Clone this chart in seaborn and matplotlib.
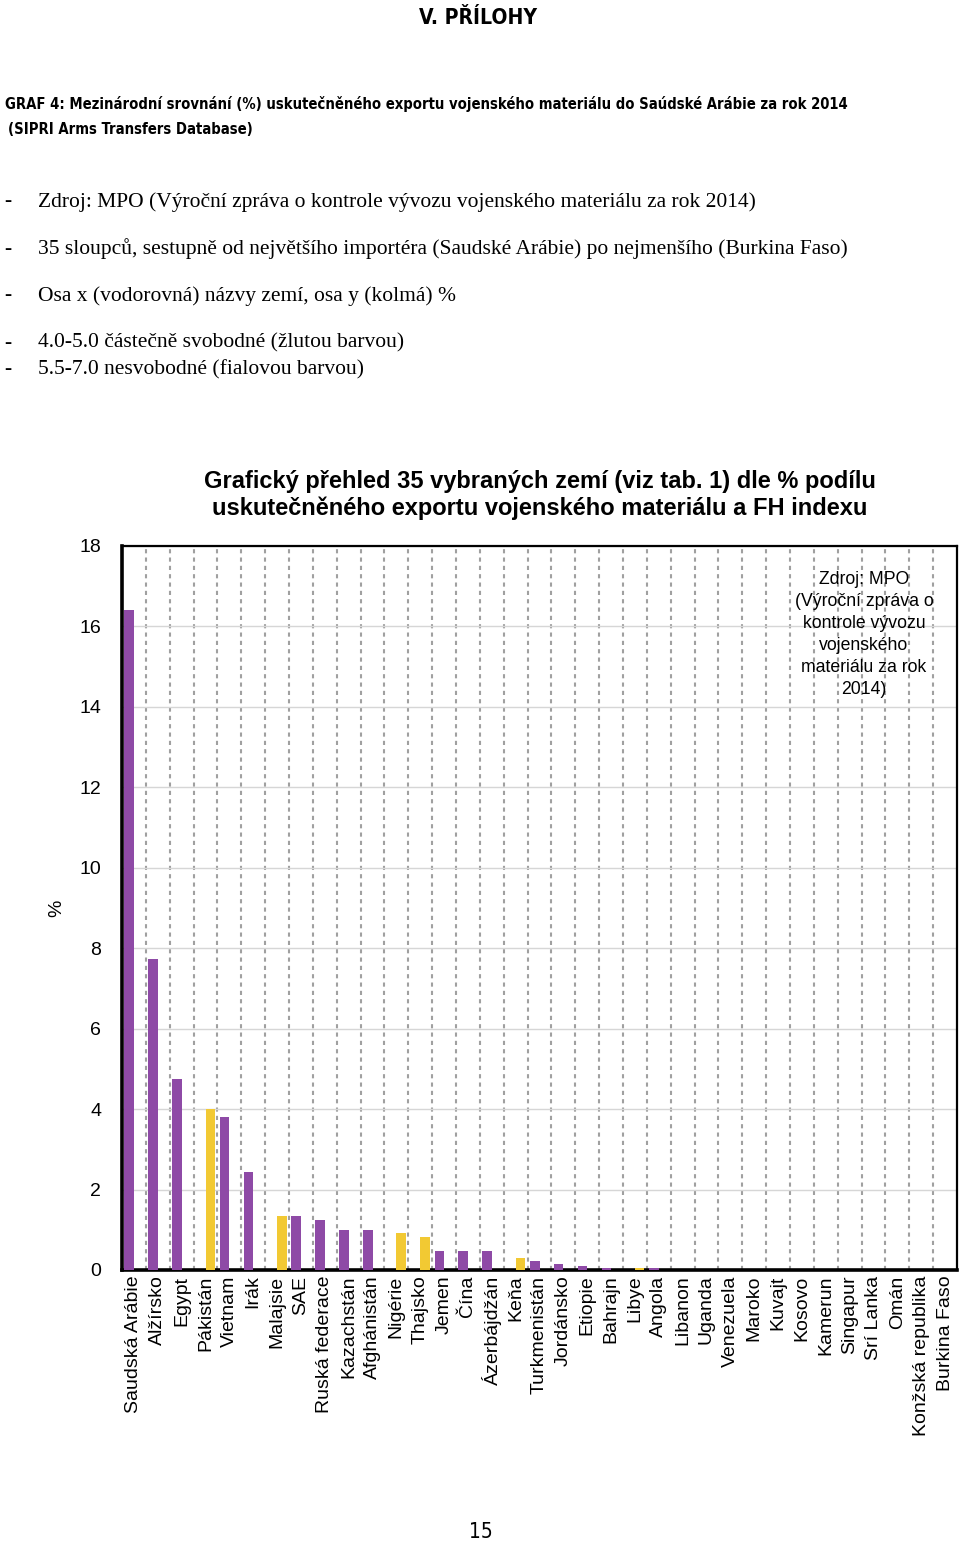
import matplotlib
matplotlib.use("Agg")
import matplotlib.pyplot as plt
from matplotlib import font_manager
import numpy as np
import pandas as pd
import seaborn as sns

# ---------------- data ----------------
countries = ["Saudská Arábie", "Alžírsko", "Egypt", "Pákistán", "Vietnam", "Irák",
             "Malajsie", "SAE", "Ruská federace", "Kazachstán", "Afghánistán",
             "Nigérie", "Thajsko", "Jemen", "Čína", "Ázerbájdžán", "Keňa",
             "Turkmenistán", "Jordánsko", "Etiopie", "Bahrajn", "Libye", "Angola",
             "Libanon", "Uganda", "Venezuela", "Maroko", "Kuvajt", "Kosovo",
             "Kamerun", "Singapur", "Srí Lanka", "Omán", "Konžská republika",
             "Burkina Faso"]
values = [16.42, 7.74, 4.75, 4.0, 3.8, 2.43,
          1.35, 1.35, 1.25, 1.0, 1.0,
          0.91, 0.81, 0.46, 0.46, 0.46, 0.31,
          0.22, 0.16, 0.11, 0.06, 0.06, 0.06,
          0.0, 0.0, 0.0, 0.0, 0.0, 0.0,
          0.0, 0.0, 0.0, 0.0, 0.0, 0.0]
PF = "částečně svobodné"
NF = "nesvobodné"
status = [NF, NF, NF, PF, NF, NF,
          PF, NF, NF, NF, NF,
          PF, PF, NF, NF, NF, PF,
          NF, NF, NF, NF, PF, NF,
          NF, NF, NF, NF, NF, NF,
          NF, NF, NF, NF, NF, NF]
hue_order = [NF, PF]
palette = ["#8E4AA6", "#F2C933"]
y_ticks = [0, 2, 4, 6, 8, 10, 12, 14, 16, 18]

chart_title = ("Grafický přehled 35 vybraných zemí (viz tab. 1) dle % podílu\n"
               "uskutečněného exportu vojenského materiálu a FH indexu")
source_note = ("Zdroj: MPO\n(Výroční zpráva o\nkontrole vývozu\nvojenského\n"
               "materiálu za rok\n2014)")
page_header = "V. PŘÍLOHY"
graf_caption = ("GRAF 4: Mezinárodní srovnání (%) uskutečněného exportu vojenského "
                "materiálu do Saúdské Arábie za rok 2014")
graf_caption2 = "(SIPRI Arms Transfers Database)"
bullets = ["Zdroj: MPO (Výroční zpráva o kontrole vývozu vojenského materiálu za rok 2014)",
           "35 sloupců, sestupně od největšího importéra (Saudské Arábie) po nejmenšího (Burkina Faso)",
           "Osa x (vodorovná) názvy zemí, osa y (kolmá) %",
           "4.0-5.0 částečně svobodné (žlutou barvou)",
           "5.5-7.0 nesvobodné (fialovou barvou)"]
page_number = "15"

# ---------------- style ----------------
sns.set_style("white")
plt.rcParams["font.family"] = ["Liberation Sans", "DejaVu Sans"]
plt.rcParams["text.color"] = "black"
plt.rcParams["axes.labelcolor"] = "black"
plt.rcParams["xtick.color"] = "black"
plt.rcParams["ytick.color"] = "black"

names = {f.name for f in font_manager.fontManager.ttflist}
if "Liberation Sans Narrow" in names:
    cond_kw = dict(family=["Liberation Sans Narrow", "DejaVu Sans"])
else:
    cond_kw = dict(family=["DejaVu Sans"], fontstretch="condensed")

W, H = 960, 1542
fig = plt.figure(figsize=(W / 100, H / 100), dpi=100)
fig.patch.set_facecolor("white")
ax = fig.add_axes([122 / W, 1 - 1270 / H, (957 - 122) / W, (1270 - 546) / H])

df = pd.DataFrame({"země": countries, "podíl": values, "FH": status})
sns.barplot(data=df, x="země", y="podíl", hue="FH", hue_order=hue_order,
            palette=palette, saturation=1, dodge=True, errorbar=None, legend=False,
            width=0.8, ax=ax, zorder=3, linewidth=0, edgecolor="none")

n = len(countries)
ax.set_xlim(-0.5, n - 0.5)
ax.set_ylim(0, 18)
ax.set_yticks(y_ticks)
ax.set_yticklabels([str(t) for t in y_ticks])
ax.set_xticks(np.arange(n) - 0.5, minor=True)
ax.set_axisbelow(True)
ax.yaxis.grid(True, which="major", color="#d6d6d6", lw=1.0)
ax.xaxis.grid(True, which="minor", color="#a0a0a0", lw=1.5, ls=(0, (2.0, 2.0)))
ax.xaxis.grid(False, which="major")

ax.tick_params(axis="x", which="both", length=0, pad=4, labelsize=14,
               labelrotation=90, colors="black")
ax.tick_params(axis="y", length=0, pad=15, labelsize=14, colors="black")
for lab in ax.get_xticklabels():
    lab.set_va("top")
    lab.set_ha("center")

ax.set_xlabel("")
ax.set_ylabel("%", fontsize=14, labelpad=10, color="black")

for side, lw in [("left", 2.6), ("bottom", 2.6), ("top", 1.6), ("right", 1.6)]:
    ax.spines[side].set_visible(True)
    ax.spines[side].set_color("black")
    ax.spines[side].set_linewidth(lw)

ax.set_title(chart_title, fontsize=17, fontweight="bold", pad=22, linespacing=1.2,
             color="black")

ax.text((864 - 122) / 835, (1270 - 634.5) / 724, source_note, transform=ax.transAxes,
        ha="center", va="center", fontsize=12.7, linespacing=1.38, zorder=5,
        color="black")

# ---------------- page texts ----------------
renderer = fig.canvas.get_renderer()


def fit_text(x_px, y_px, s, width_px, ha="left", **kw):
    t = fig.text(x_px / W, 1 - y_px / H, s, ha=ha, va="center", **kw)
    w = t.get_window_extent(renderer).width
    t.set_fontsize(t.get_fontsize() * width_px / w)
    return t


fit_text(478, 18, page_header, 118, ha="center", fontsize=20, fontweight="bold", **cond_kw)
t1 = fit_text(5, 104, graf_caption, 847, fontsize=14, fontweight="bold", **cond_kw)
fig.text(8 / W, 1 - 130 / H, graf_caption2, ha="left", va="center",
         fontsize=t1.get_fontsize(), fontweight="bold", **cond_kw)

serif = ["Liberation Serif", "DejaVu Serif"]
tb = fit_text(38, 249, bullets[1], 815, fontsize=15, family=serif)
fs = tb.get_fontsize()
bullet_y = [202, 249, 296, 343, 370]
for i, (s, yy) in enumerate(zip(bullets, bullet_y)):
    if i != 1:
        fig.text(38 / W, 1 - yy / H, s, ha="left", va="center", fontsize=fs, family=serif)
    fig.text(4 / W, 1 - yy / H, "-", ha="left", va="center", fontsize=fs, family=serif)

fig.text(481 / W, 1 - 1532 / H, page_number, ha="center", va="center",
         fontsize=15, **cond_kw)

fig.savefig("out.png", dpi=100, facecolor="white")
